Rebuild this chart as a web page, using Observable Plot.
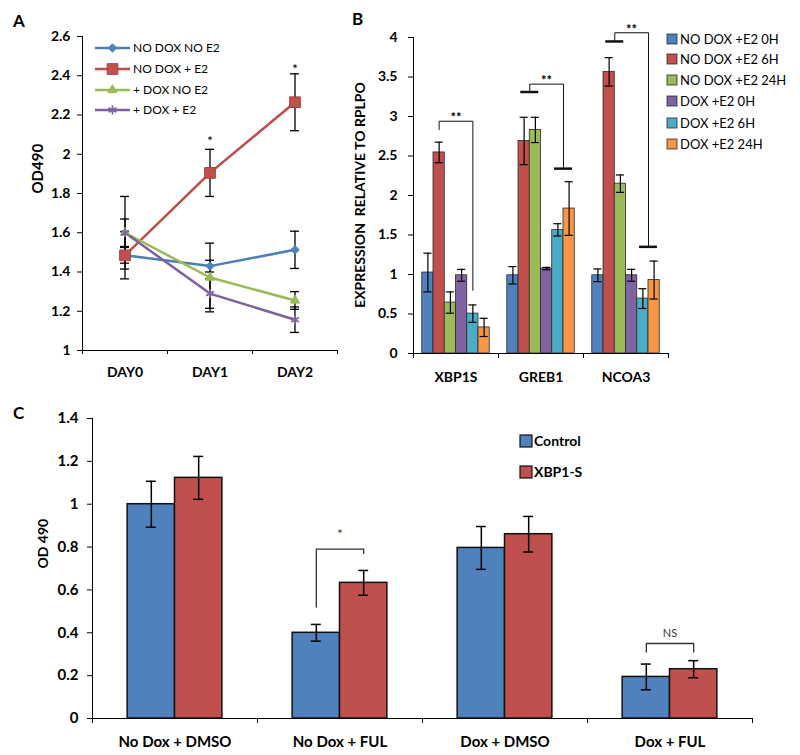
<!DOCTYPE html>
<html><head><meta charset="utf-8">
<script src="https://cdn.jsdelivr.net/npm/d3@7"></script>
<script src="https://cdn.jsdelivr.net/npm/@observablehq/plot@0.6"></script>
<style>
body{margin:0;background:#fff;}
#root{position:relative;width:800px;height:755px;overflow:hidden;font-family:Lato,"Open Sans",sans-serif;color:#000;background:#fff;}
.letter{position:absolute;font-weight:bold;font-size:17px;line-height:1;font-family:Lato,sans-serif;}
</style></head><body><div id="root"></div>
<script>
// ---------- Panel A data ----------
const daysA = ["DAY0", "DAY1", "DAY2"];
const seriesA = ["NO DOX NO E2", "NO DOX + E2", "+ DOX NO E2", "+ DOX + E2"];
const noDoxNoE2 = [1.485, 1.43, 1.513];
const noDoxNoE2Err = [0.04, 0.03, 0.095];
const noDoxPlusE2 = [1.485, 1.905, 2.265];
const noDoxPlusE2Err = [0.12, 0.12, 0.145];
const doxNoE2 = [1.60, 1.372, 1.255];
const doxNoE2Err = [0.07, 0.175, 0.045];
const doxPlusE2 = [1.60, 1.29, 1.157];
const doxPlusE2Err = [0.185, 0.075, 0.065];
const starsA = [{day: "DAY1", y: 2.08}, {day: "DAY2", y: 2.445}];
const yTicksA = [1, 1.2, 1.4, 1.6, 1.8, 2, 2.2, 2.4, 2.6];
const lineColorsA = ["#4A7EBB", "#BE4B48", "#98B954", "#7D60A0"];
const markerFillA = ["#4F81BD", "#C0504D", "#9BBB59", "none"];
const markerStrokeA = ["#4A7EBB", "#A7403D", "#98B954", "#8064A2"];
const symbolsA = ["diamond2", "square2", "triangle2", "asterisk"];
const markerRA = [3.8, 6.8, 4.4, 4.2];

// ---------- Panel B data ----------
const genesB = ["XBP1S", "GREB1", "NCOA3"];
const seriesB = ["NO DOX +E2 0H", "NO DOX +E2 6H", "NO DOX +E2 24H", "DOX +E2 0H", "DOX +E2 6H", "DOX +E2 24H"];
const colorsB = ["#4F81BD", "#C0504D", "#9BBB59", "#8064A2", "#4BACC6", "#F79646"];
const xbp1sB = [1.025, 2.545, 0.645, 0.99, 0.505, 0.33];
const xbp1sErrB = [0.245, 0.13, 0.135, 0.075, 0.11, 0.115];
const greb1B = [0.99, 2.69, 2.83, 1.075, 1.565, 1.835];
const greb1ErrB = [0.11, 0.3, 0.16, 0.015, 0.078, 0.34];
const ncoa3B = [0.99, 3.565, 2.15, 0.99, 0.695, 0.93];
const ncoa3ErrB = [0.08, 0.18, 0.11, 0.075, 0.125, 0.24];
const yTicksB = [0, 0.5, 1, 1.5, 2, 2.5, 3, 3.5, 4];
const yLabelB = "EXPRESSION\u00a0 RELATIVE TO RPLPO";
const bracketsB = [
  {g: "XBP1S", from: 1, to: 4, left: 2.835, top: 2.94, right: 0.80, capped: false},
  {g: "GREB1", from: 1.5, to: 4.5, left: 3.31, top: 3.41, right: 2.34, capped: true},
  {g: "NCOA3", from: 1.5, to: 4.5, left: 3.95, top: 4.06, right: 1.35, capped: true}
];

// ---------- Panel C data ----------
const groupsC = ["No Dox + DMSO", "No Dox + FUL", "Dox + DMSO", "Dox + FUL"];
const seriesC = ["Control", "XBP1-S"];
const colorsC = ["#4F81BD", "#C0504D"];
const controlC = [1.0, 0.40, 0.796, 0.194];
const controlErrC = [0.107, 0.039, 0.10, 0.06];
const xbp1sC = [1.123, 0.633, 0.86, 0.23];
const xbp1sErrC = [0.10, 0.058, 0.083, 0.04];
const yTicksC = [0, 0.2, 0.4, 0.6, 0.8, 1, 1.2, 1.4];
const bracketsC = [
  {g: "No Dox + FUL", left: 0.52, top: 0.79, right: 0.77, label: "*", labelY: 0.874},
  {g: "Dox + FUL", left: 0.31, top: 0.35, right: 0.31, label: "NS", labelY: 0.397}
];

const root = document.getElementById("root");
function place(el, left, top) {
  el.style.position = "absolute";
  el.style.left = left + "px";
  el.style.top = top + "px";
  root.appendChild(el);
}
const baseStyle = {background: "transparent", fontFamily: "Lato, sans-serif", fontWeight: "bold", color: "#000", overflow: "visible"};

// ================= Panel A =================
const valsA = [noDoxNoE2, noDoxPlusE2, doxNoE2, doxPlusE2];
const errsA = [noDoxNoE2Err, noDoxPlusE2Err, doxNoE2Err, doxPlusE2Err];
const tableA = seriesA.flatMap((s, k) => daysA.map((day, i) => ({s, k, day, v: valsA[k][i], e: errsA[k][i]})));
const xi = d => daysA.indexOf(d.day);
const capA = 0.053;
const xDomA = [-0.5, daysA.length - 0.5];
const plotA = Plot.plot({
  width: 345, height: 385,
  marginLeft: 82, marginRight: 8, marginTop: 36, marginBottom: 35,
  style: {...baseStyle, fontSize: "14px"},
  x: {domain: xDomA},
  y: {domain: [yTicksA[0], yTicksA[yTicksA.length - 1]]},
  color: {domain: seriesA, range: lineColorsA},
  marks: [
    Plot.axisY(yTicksA, {tickSize: 5, tickPadding: 7, tickFormat: d => String(d), label: null}),
    Plot.axisX(d3.range(daysA.length + 1).map(i => i - 0.5), {tickSize: 4, tickFormat: () => "", label: null}),
    Plot.axisX(d3.range(daysA.length), {tickSize: 0, tickPadding: 17, tickFormat: i => daysA[i], label: null}),
    Plot.ruleX([xDomA[0]]),
    Plot.ruleY([yTicksA[0]]),
    Plot.text(["OD490"], {frameAnchor: "left", rotate: -90, dx: -44, fontSize: 15, fontWeight: "bold"}),
    Plot.line(tableA, {x: xi, y: "v", z: "s", stroke: "s", strokeWidth: 2.5}),
    Plot.ruleX(tableA, {x: xi, y1: d => d.v - d.e, y2: d => d.v + d.e, stroke: "#000", strokeWidth: 1.3}),
    Plot.ruleY(tableA, {y: d => d.v - d.e, x1: d => xi(d) - capA, x2: d => xi(d) + capA, stroke: "#000", strokeWidth: 1.3}),
    Plot.ruleY(tableA, {y: d => d.v + d.e, x1: d => xi(d) - capA, x2: d => xi(d) + capA, stroke: "#000", strokeWidth: 1.3}),
    ...seriesA.map((s, k) => Plot.dot(tableA.filter(d => d.s === s), {
      x: xi, y: "v", symbol: symbolsA[k], r: markerRA[k],
      fill: markerFillA[k], stroke: markerStrokeA[k], strokeWidth: k === 3 ? 1.8 : 1
    })),
    Plot.text(starsA, {x: xi, y: "y", text: () => "*", fontSize: 14, fontWeight: "normal", dy: 3})
  ]
});
place(plotA, 0, 0);

// ================= Panel B =================
const valsB = [xbp1sB, greb1B, ncoa3B];
const errsB = [xbp1sErrB, greb1ErrB, ncoa3ErrB];
const tableB = genesB.flatMap((g, gi) => seriesB.map((s, i) => ({g, s, i, v: valsB[gi][i], e: errsB[gi][i]})));
const padB = 0.78;
const xDomB = [-0.5 - padB, seriesB.length - 0.5 + padB];
const capB = 0.36;
const bracketPathB = bracketsB.flatMap(b => [
  {g: b.g, x: b.from, y: b.left}, {g: b.g, x: b.from, y: b.top},
  {g: b.g, x: b.to, y: b.top}, {g: b.g, x: b.to, y: b.right}
]);
const cappedB = bracketsB.filter(b => b.capped);
const plotB = Plot.plot({
  width: 465, height: 385,
  marginLeft: 77, marginRight: 131, marginTop: 37, marginBottom: 32,
  style: {...baseStyle, fontSize: "14px"},
  fx: {domain: genesB, padding: 0},
  x: {domain: xDomB},
  y: {domain: [0, 4]},
  color: {domain: seriesB, range: colorsB},
  marks: [
    Plot.rect(tableB, {fx: "g", x1: d => d.i - 0.5, x2: d => d.i + 0.5, y1: 0, y2: "v", fill: "s", stroke: "#2a2a2a", strokeWidth: 0.8}),
    Plot.ruleX(tableB, {fx: "g", x: "i", y1: d => d.v - d.e, y2: d => d.v + d.e, stroke: "#000", strokeWidth: 1.2}),
    Plot.ruleY(tableB, {fx: "g", y: d => d.v - d.e, x1: d => d.i - capB, x2: d => d.i + capB, stroke: "#000", strokeWidth: 1.2}),
    Plot.ruleY(tableB, {fx: "g", y: d => d.v + d.e, x1: d => d.i - capB, x2: d => d.i + capB, stroke: "#000", strokeWidth: 1.2}),
    Plot.line(bracketPathB, {fx: "g", x: "x", y: "y", z: "g", stroke: "#111", strokeWidth: 1}),
    Plot.ruleY(cappedB, {fx: "g", y: "left", x1: d => d.from - 0.8, x2: d => d.from + 0.8, stroke: "#111", strokeWidth: 2.5}),
    Plot.ruleY(cappedB, {fx: "g", y: "right", x1: d => d.to - 0.8, x2: d => d.to + 0.8, stroke: "#111", strokeWidth: 2.5}),
    Plot.text(bracketsB, {fx: "g", x: d => (d.from + d.to) / 2, y: "top", text: () => "**", fontSize: 13, fontWeight: "bold", dy: -3}),
    Plot.ruleY([0]),
    Plot.ruleX([{g: genesB[0]}], {fx: "g", x: () => xDomB[0]}),
    Plot.axisY(yTicksB, {tickSize: 5, tickPadding: 11, tickFormat: d => String(d), label: null}),
    Plot.axisX(xDomB, {tickSize: 5, tickFormat: () => "", label: null}),
    Plot.axisFx({anchor: "bottom", tickSize: 0, tickPadding: 19, label: null})
  ]
});
place(plotB, 335, 0);

// Rotated y-axis title of panel B (separate small SVG)
{
  const svg = d3.create("svg").attr("width", 30).attr("height", 260).style("overflow", "visible");
  svg.append("text")
    .attr("transform", "translate(15,130) rotate(-90)")
    .attr("text-anchor", "middle").attr("dy", "0.35em")
    .attr("font-family", "Lato, sans-serif").attr("font-size", 14).attr("font-weight", "bold")
    .attr("fill", "#000").style("white-space", "pre")
    .text(yLabelB);
  place(svg.node(), 345, 65);
}

// ================= Panel C =================
const valsC = [controlC, xbp1sC];
const errsC = [controlErrC, xbp1sErrC];
const tableC = groupsC.flatMap((g, gi) => seriesC.map((s, i) => ({g, s, i, v: valsC[i][gi], e: errsC[i][gi]})));
const padC = 0.742;
const xDomC = [-0.5 - padC, seriesC.length - 0.5 + padC];
const capC = 0.105;
const bracketPathC = bracketsC.flatMap(b => [
  {g: b.g, x: 0, y: b.left}, {g: b.g, x: 0, y: b.top},
  {g: b.g, x: 1, y: b.top}, {g: b.g, x: 1, y: b.right}
]);
const plotC = Plot.plot({
  width: 800, height: 375,
  marginLeft: 91, marginRight: 47, marginTop: 38, marginBottom: 37,
  style: {...baseStyle, fontSize: "15px"},
  fx: {domain: groupsC, padding: 0},
  x: {domain: xDomC},
  y: {domain: [0, 1.4]},
  color: {domain: seriesC, range: colorsC},
  marks: [
    Plot.rect(tableC, {fx: "g", x1: d => d.i - 0.5, x2: d => d.i + 0.5, y1: 0, y2: "v", fill: "s", stroke: "#111", strokeWidth: 1.5}),
    Plot.ruleX(tableC, {fx: "g", x: "i", y1: d => d.v - d.e, y2: d => d.v + d.e, stroke: "#000", strokeWidth: 1.5}),
    Plot.ruleY(tableC, {fx: "g", y: d => d.v - d.e, x1: d => d.i - capC, x2: d => d.i + capC, stroke: "#000", strokeWidth: 1.5}),
    Plot.ruleY(tableC, {fx: "g", y: d => d.v + d.e, x1: d => d.i - capC, x2: d => d.i + capC, stroke: "#000", strokeWidth: 1.5}),
    Plot.line(bracketPathC, {fx: "g", x: "x", y: "y", z: "g", stroke: "#333", strokeWidth: 1.3}),
    Plot.text(bracketsC.filter(b => b.label === "*"), {fx: "g", x: 0.5, y: "labelY", text: "label", fontSize: 14, fontWeight: "normal", fill: "#444", dy: 3}),
    Plot.text(bracketsC.filter(b => b.label !== "*"), {fx: "g", x: 0.5, y: "labelY", text: "label", fontSize: 11, fontWeight: "normal", fill: "#333"}),
    Plot.ruleY([0]),
    Plot.ruleX([{g: groupsC[0]}], {fx: "g", x: () => xDomC[0]}),
    Plot.axisY(yTicksC, {tickSize: 5, tickPadding: 9, tickFormat: d => String(d), label: null}),
    Plot.axisX(xDomC, {tickSize: 5, tickFormat: () => "", label: null}),
    Plot.axisFx({anchor: "bottom", tickSize: 0, tickPadding: 18, label: null}),
    Plot.text([{g: groupsC[0]}], {fx: "g", text: () => "OD 490", frameAnchor: "left", rotate: -90, dx: -49, fontSize: 14, fontWeight: "bold"})
  ]
});
place(plotC, 0, 380);

// ================= Legends =================
// Legend A (inside plot A)
{
  const svg = d3.create("svg").attr("width", 160).attr("height", 90).style("overflow", "visible");
  const rowsY = [12, 33, 54, 74];
  const symMap = {diamond2: d3.symbolDiamond2, square2: d3.symbolSquare2, triangle2: d3.symbolTriangle2, asterisk: d3.symbolAsterisk};
  seriesA.forEach((s, k) => {
    const g = svg.append("g").attr("transform", `translate(0,${rowsY[k]})`);
    g.append("line").attr("x1", 7).attr("x2", 42).attr("y1", 0).attr("y2", 0).attr("stroke", lineColorsA[k]).attr("stroke-width", 2.5);
    g.append("path").attr("transform", "translate(24.5,0)")
      .attr("d", d3.symbol(symMap[symbolsA[k]], Math.PI * markerRA[k] * markerRA[k])())
      .attr("fill", markerFillA[k]).attr("stroke", markerStrokeA[k]).attr("stroke-width", k === 3 ? 1.8 : 1);
    g.append("text").attr("x", 45).attr("y", 0).attr("dy", "0.35em").text(s)
      .attr("font-family", "Lato, sans-serif").attr("font-size", 12).attr("fill", "#000");
  });
  place(svg.node(), 88, 36);
}
// Legend B
{
  const svg = d3.create("svg").attr("width", 140).attr("height", 140).style("overflow", "visible");
  const rowsY = [14, 34, 55, 76, 98, 119];
  seriesB.forEach((s, k) => {
    const g = svg.append("g").attr("transform", `translate(0,${rowsY[k]})`);
    g.append("rect").attr("x", 7).attr("y", -5).attr("width", 10).attr("height", 10)
      .attr("fill", colorsB[k]).attr("stroke", "#2a2a2a").attr("stroke-width", 0.8);
    g.append("text").attr("x", 20).attr("y", 0).attr("dy", "0.35em").text(s)
      .attr("font-family", "Lato, sans-serif").attr("font-size", 13).attr("fill", "#000");
  });
  place(svg.node(), 660, 25);
}
// Legend C
{
  const svg = d3.create("svg").attr("width", 120).attr("height", 70).style("overflow", "visible");
  const rowsY = [16, 47];
  seriesC.forEach((s, k) => {
    const g = svg.append("g").attr("transform", `translate(0,${rowsY[k]})`);
    g.append("rect").attr("x", 5).attr("y", -6).attr("width", 12).attr("height", 12)
      .attr("fill", colorsC[k]).attr("stroke", "#111").attr("stroke-width", 1.2);
    g.append("text").attr("x", 19).attr("y", 0).attr("dy", "0.35em").text(s)
      .attr("font-family", "Lato, sans-serif").attr("font-size", 14).attr("font-weight", "bold").attr("fill", "#000");
  });
  place(svg.node(), 515, 425);
}

// Panel letters
[["A", 13, 12], ["B", 352, 10], ["C", 13, 404]].forEach(([t, x, y]) => {
  const d = document.createElement("div");
  d.className = "letter";
  d.textContent = t;
  d.style.left = x + "px";
  d.style.top = y + "px";
  root.appendChild(d);
});
</script></body></html>
